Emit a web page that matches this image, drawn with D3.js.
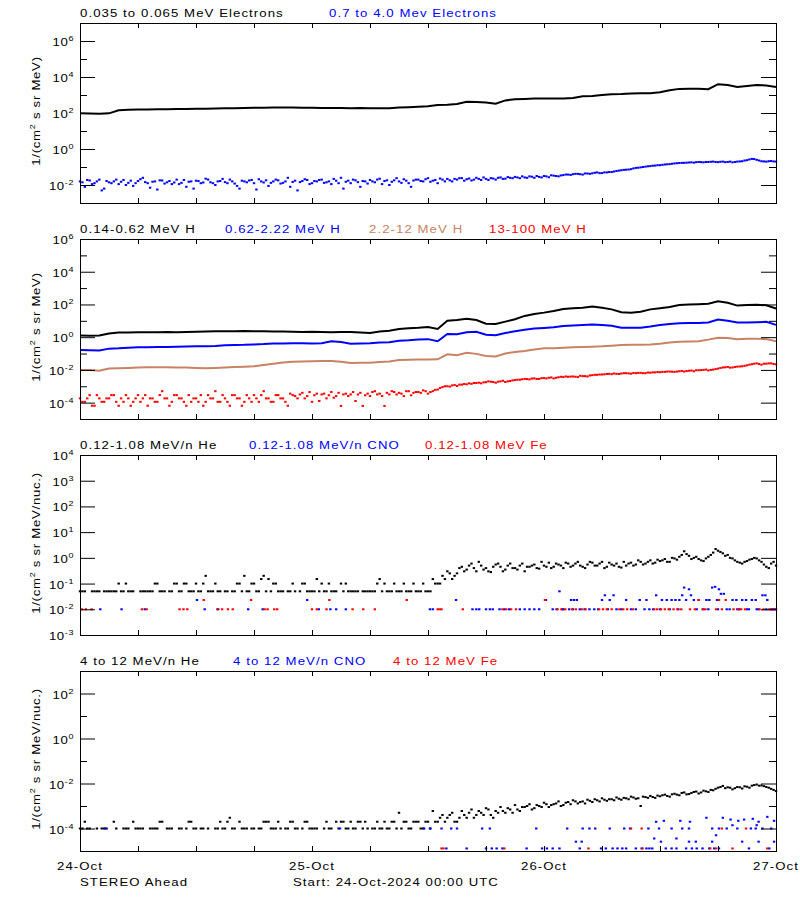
<!DOCTYPE html>
<html><head><meta charset="utf-8">
<script src="https://cdn.jsdelivr.net/npm/d3@7"></script>
<style>body{margin:0;background:#fff}svg{display:block}</style>
</head><body>
<script>
// ---------------- DATA (time in hours since 24-Oct-2024 00:00 UTC) ----------------
// Panel 1: electrons, log10 flux. black hourly; blue at :00/:30 (A) and :15/:45 (B)
const eLowLog = [1.98,1.97,1.96,1.98,2.15,2.18,2.2,2.2,2.21,2.21,
 2.22,2.22,2.24,2.24,2.25,2.26,2.27,2.28,2.29,2.29,
 2.3,2.3,2.3,2.29,2.29,2.28,2.28,2.28,2.27,2.28,
 2.27,2.26,2.26,2.3,2.32,2.35,2.37,2.44,2.46,2.5,
 2.62,2.61,2.58,2.52,2.7,2.76,2.78,2.8,2.8,2.8,
 2.81,2.84,2.93,2.94,3.0,3.04,3.05,3.09,3.1,3.1,
 3.15,3.26,3.34,3.35,3.35,3.32,3.6,3.56,3.44,3.5,
 3.55,3.53,3.44];
const eHighLog = [-1.8,-2.1,-1.75,-1.9,-1.7,-2.2,-1.85,-1.8,-1.95,-1.72,
 -1.88,-2.05,-1.78,-1.6,-1.9,-1.82,-2.25,-1.75,-1.85,-1.95,
 -1.7,-1.88,-2.1,-1.8,-1.76,-1.9,-1.65,-1.85,-2.0,-1.78,
 -1.84,-1.7,-1.92,-2.2,-1.8,-1.75,-1.9,-1.68,-1.86,-2.05,
 -1.8,-1.74,-1.88,-1.6,-1.83,-2.3,-1.78,-1.72,-1.9,-1.8,
 -1.7,-1.85,-1.95,-1.76,-1.6,-1.82,-1.9,-1.74,-2.1,-1.8,
 -1.72,-1.85,-1.65,-1.78,-2.0,-1.74,-1.8,-1.68,-1.9,-1.75,
 -1.7,-1.8,-1.62,-1.76,-1.9,-1.7,-1.66,-1.8,-1.7,-1.62,
 -1.68,-1.75,-1.6,-1.72,-1.66,-1.62,-1.7,-1.58,-1.65,-1.6,
 -1.55,-1.62,-1.58,-1.52,-1.6,-1.55,-1.5,-1.57,-1.48,-1.52,
 -1.45,-1.42,-1.4,-1.38,-1.42,-1.36,-1.35,-1.3,-1.34,-1.3,
 -1.28,-1.22,-1.18,-1.15,-1.12,-1.05,-1.02,-0.98,-0.95,-0.92,
 -0.9,-0.86,-0.84,-0.8,-0.78,-0.77,-0.75,-0.76,-0.72,-0.74,
 -0.72,-0.7,-0.73,-0.7,-0.72,-0.74,-0.7,-0.68,-0.62,-0.55,
 -0.6,-0.68,-0.7,-0.67,-0.7];
const eHighLogB = [-1.85,-1.72,-1.95,-1.8,-2.3,-1.78,-1.9,-1.7,-1.82,-2.0,
 -1.76,-1.9,-1.68,-1.84,-2.15,-1.8,-1.74,-1.92,-1.78,-1.86,
 -1.95,-1.72,-1.82,-2.2,-1.78,-1.86,-1.7,-1.9,-1.8,-1.66,
 -1.9,-1.8,-2.05,-1.76,-1.85,-1.72,-2.25,-1.8,-1.74,-1.88,
 -1.7,-1.92,-1.8,-2.1,-1.76,-1.84,-1.68,-1.95,-1.78,-1.72,
 -1.88,-1.8,-1.66,-1.9,-2.2,-1.76,-1.7,-1.84,-1.78,-1.92,
 -1.8,-1.7,-1.95,-1.74,-1.82,-1.62,-1.88,-1.76,-2.1,-1.7,
 -1.78,-1.68,-1.82,-1.72,-1.64,-1.8,-1.74,-1.66,-1.62,-1.76,
 -1.64,-1.7,-1.66,-1.58,-1.72,-1.64,-1.6,-1.66,-1.56,-1.62,
 -1.58,-1.52,-1.6,-1.54,-1.5,-1.58,-1.52,-1.46,-1.5,-1.47,
 -1.42,-1.44,-1.38,-1.4,-1.36,-1.38,-1.32,-1.34,-1.3,-1.28,
 -1.25,-1.2,-1.16,-1.14,-1.08,-1.04,-1.0,-0.96,-0.93,-0.9,
 -0.88,-0.85,-0.82,-0.79,-0.77,-0.76,-0.74,-0.73,-0.73,-0.72,
 -0.71,-0.72,-0.71,-0.73,-0.7,-0.72,-0.69,-0.64,-0.58,-0.56,
 -0.64,-0.69,-0.68,-0.69];
// Panel 2: protons, log10 flux. three lines hourly, 13-100 MeV at :00/:30 (A) and :15/:45 (B)
const hLowLog = [0.1,0.08,0.1,0.22,0.28,0.28,0.3,0.3,0.3,0.31,
 0.3,0.32,0.33,0.35,0.36,0.36,0.37,0.38,0.37,0.36,
 0.34,0.35,0.33,0.32,0.33,0.32,0.3,0.32,0.31,0.28,
 0.26,0.35,0.4,0.5,0.55,0.57,0.62,0.5,1.0,1.05,
 1.12,1.05,0.82,0.8,0.95,1.1,1.3,1.42,1.5,1.6,
 1.72,1.77,1.8,1.87,1.8,1.7,1.52,1.5,1.55,1.7,
 1.77,1.85,1.97,2.0,2.02,2.05,2.2,2.1,1.93,1.97,
 1.98,1.95,1.75];
const hMidLog = [-0.78,-0.8,-0.82,-0.7,-0.68,-0.64,-0.62,-0.61,-0.6,-0.6,
 -0.58,-0.57,-0.56,-0.55,-0.54,-0.5,-0.48,-0.47,-0.44,-0.42,
 -0.38,-0.38,-0.37,-0.37,-0.38,-0.37,-0.25,-0.3,-0.4,-0.39,
 -0.37,-0.33,-0.31,-0.22,-0.19,-0.14,-0.12,-0.25,0.2,0.18,
 0.3,0.33,0.15,0.12,0.25,0.36,0.45,0.53,0.56,0.6,
 0.68,0.72,0.74,0.77,0.75,0.7,0.58,0.57,0.58,0.65,
 0.75,0.8,0.85,0.86,0.86,0.9,1.08,1.0,0.9,0.9,
 0.92,0.94,0.75];
const hHighLog = [-2.0,-2.0,-2.05,-1.92,-1.9,-1.88,-1.85,-1.84,-1.84,-1.83,
 -1.85,-1.86,-1.88,-1.9,-1.88,-1.85,-1.82,-1.8,-1.78,-1.7,
 -1.62,-1.55,-1.5,-1.48,-1.47,-1.45,-1.45,-1.5,-1.58,-1.57,
 -1.56,-1.52,-1.48,-1.4,-1.38,-1.37,-1.36,-1.35,-1.05,-1.1,
 -0.95,-1.02,-1.15,-1.18,-1.0,-0.9,-0.85,-0.75,-0.68,-0.67,
 -0.65,-0.62,-0.6,-0.58,-0.56,-0.52,-0.48,-0.47,-0.46,-0.44,
 -0.4,-0.33,-0.28,-0.26,-0.25,-0.15,-0.03,-0.05,-0.12,-0.1,
 -0.1,-0.12,-0.25];
const hTopLog = [-3.74,-3.95,-3.54,-4.19,-3.74,-3.95,-3.74,-3.54,-4.19,-3.95,
 -3.74,-3.95,-3.54,-3.74,-4.19,-3.74,-3.95,-3.3,-3.74,-3.95,
 -3.54,-3.74,-4.19,-3.95,-3.74,-3.54,-3.95,-3.74,-3.3,-3.95,
 -3.74,-4.19,-3.54,-3.74,-3.95,-3.74,-3.54,-3.95,-3.3,-3.74,
 -3.95,-3.54,-3.74,-4.19,-3.54,-3.74,-3.4,-3.6,-3.95,-3.45,
 -3.5,-3.74,-3.35,-3.6,-4.2,-3.45,-3.5,-3.9,-3.4,-3.55,
 -3.6,-3.3,-3.45,-4.2,-3.5,-3.35,-3.4,-3.6,-3.3,-3.4,
 -3.35,-3.25,-3.45,-3.3,-3.2,-3.05,-3.0,-2.95,-2.98,-2.9,
 -2.88,-2.85,-2.8,-2.82,-2.75,-2.72,-2.78,-2.7,-2.74,-2.68,
 -2.62,-2.6,-2.55,-2.58,-2.52,-2.55,-2.5,-2.48,-2.52,-2.45,
 -2.44,-2.42,-2.4,-2.44,-2.38,-2.4,-2.32,-2.3,-2.28,-2.25,
 -2.26,-2.24,-2.22,-2.2,-2.23,-2.2,-2.18,-2.2,-2.17,-2.15,
 -2.14,-2.12,-2.1,-2.12,-2.08,-2.1,-2.05,-2.08,-2.02,-2.0,
 -2.03,-1.98,-1.92,-1.85,-1.82,-1.85,-1.8,-1.78,-1.72,-1.65,
 -1.6,-1.68,-1.62,-1.6,-1.66];
const hTopLogB = [-3.95,-3.74,-4.19,-3.54,-3.95,-3.74,-3.54,-3.95,-3.74,-3.54,
 -4.19,-3.74,-3.95,-3.54,-3.74,-3.95,-3.54,-3.74,-4.19,-3.54,
 -3.74,-3.95,-3.54,-3.74,-3.95,-4.19,-3.54,-3.74,-3.95,-3.54,
 -3.95,-3.54,-3.74,-4.19,-3.54,-3.95,-3.74,-3.54,-3.74,-3.95,
 -3.54,-3.74,-3.95,-3.45,-3.6,-3.5,-3.74,-3.35,-3.55,-3.9,
 -3.45,-3.55,-3.7,-3.4,-3.5,-3.6,-3.35,-3.5,-4.2,-3.45,
 -3.35,-3.5,-3.6,-3.4,-3.3,-3.5,-3.45,-3.3,-3.55,-3.35,
 -3.4,-3.3,-3.35,-3.22,-3.1,-3.0,-3.02,-2.92,-2.9,-2.86,
 -2.82,-2.8,-2.78,-2.76,-2.7,-2.74,-2.72,-2.66,-2.7,-2.64,
 -2.6,-2.57,-2.56,-2.53,-2.55,-2.5,-2.52,-2.46,-2.48,-2.42,
 -2.4,-2.41,-2.42,-2.36,-2.38,-2.34,-2.3,-2.28,-2.27,-2.24,
 -2.22,-2.25,-2.2,-2.21,-2.19,-2.18,-2.2,-2.16,-2.15,-2.13,
 -2.12,-2.1,-2.11,-2.1,-2.06,-2.07,-2.04,-2.02,-2.01,-1.98,
 -2.0,-1.95,-1.88,-1.84,-1.86,-1.82,-1.79,-1.75,-1.68,-1.62,
 -1.64,-1.62,-1.6,-1.64];
// Panel 3: 0.12-1.08 MeV/n He flux at :00/:30 (A) and :15/:45 (B); null = no counts
const heLow = [0.05,0.05,null,0.05,0.05,0.05,0.05,0.05,0.1,0.05,
 0.05,0.05,null,0.05,0.05,0.05,0.1,0.05,null,0.05,
 0.1,0.05,0.1,0.05,0.1,0.05,0.2,0.05,0.1,0.05,
 0.05,null,0.05,0.1,0.2,0.05,0.1,0.05,0.2,0.15,
 0.1,0.05,0.05,0.05,0.1,null,0.1,0.05,0.05,0.15,
 0.1,0.05,0.05,0.05,0.1,0.1,0.05,0.05,null,0.05,
 0.05,0.05,0.15,0.1,0.05,0.1,0.05,0.1,0.05,0.1,
 0.05,0.1,0.05,0.15,0.1,0.2,0.3,0.15,0.25,0.45,
 0.35,0.6,0.3,0.5,0.4,0.28,0.55,0.45,0.35,0.6,
 0.4,0.5,0.3,0.45,0.55,0.38,0.5,0.65,0.45,0.55,
 0.4,0.6,0.5,0.7,0.45,0.55,0.65,0.5,0.7,0.45,
 0.55,0.6,0.42,0.5,0.65,0.55,0.7,0.6,0.8,0.65,
 0.75,0.9,0.7,0.95,1.1,1.8,1.2,1.0,0.9,0.75,
 1.1,1.6,1.9,1.5,1.3,0.95,0.7,0.6,0.75,0.9,
 0.95,0.7,0.45,0.6,0.5];
const heLowB = [0.05,null,0.05,0.05,null,0.05,0.05,0.05,0.05,0.1,
 0.05,null,0.05,0.05,0.05,0.1,0.05,0.05,0.05,0.1,
 0.05,0.1,0.05,0.05,0.05,0.1,0.05,0.05,0.05,null,
 0.05,0.05,0.1,0.05,0.05,0.1,0.05,0.15,0.05,0.05,
 0.1,0.05,null,0.05,0.05,0.05,0.1,0.05,0.05,0.05,
 0.05,0.1,0.05,null,0.05,0.05,0.05,0.05,0.05,0.05,
 0.05,0.1,0.05,0.05,0.05,0.05,0.05,0.05,0.05,0.05,
 0.05,0.05,0.05,0.1,0.1,0.15,0.25,0.2,0.4,0.3,
 0.5,0.4,0.7,0.35,0.3,0.45,0.6,0.3,0.5,0.4,
 0.35,0.6,0.45,0.5,0.4,0.7,0.45,0.4,0.6,0.5,
 0.65,0.45,0.6,0.5,0.4,0.7,0.5,0.6,0.4,0.65,
 0.5,0.45,0.7,0.6,0.5,0.8,0.55,0.7,0.6,0.85,
 0.8,0.7,1.0,0.85,1.3,1.4,0.9,1.1,0.8,0.95,
 1.3,2.2,1.7,1.2,1.0,0.8,0.65,0.7,0.85,1.0,
 0.8,0.55,0.4,0.7];
// CNO and Fe: [hour, flux] samples
const cnoLow = [[2.1,.01],[4.3,.01],[6.7,.01],[12.1,.023],[12.9,.01],[14.3,.01],[17.4,.01],[18.9,.01],
 [23.5,.023],[24.7,.01],[25.9,.01],[26.5,.01],[27.5,.01],[36.2,.01],[36.5,.01],[38.9,.023],
 [40.6,.01],[41.0,.01],[41.3,.01],[42.0,.01],[42.4,.01],[42.7,.01],[43.4,.01],[43.9,.01],[44.4,.01],
 [45.5,.01],[46.0,.01],[46.5,.01],[47.0,.01],[47.5,.01],[48.2,.023],[48.9,.01],[49.3,.01],[49.6,.05],
 [49.9,.01],[50.0,.01],[50.6,.01],[50.8,.023],[51.0,.01],[51.1,.023],[51.4,.023],[51.7,.01],[52.2,.01],
 [52.7,.01],[53.2,.01],[53.6,.01],[54.0,.023],[54.3,.035],[54.6,.01],[54.8,.023],[55.2,.035],[55.5,.01],
 [56.0,.01],[56.5,.023],[57.0,.01],[57.5,.01],[57.9,.023],[58.4,.01],[58.6,.023],[58.9,.01],[59.3,.01],
 [59.6,.035],[60.0,.01],[60.2,.023],[60.7,.023],[61.0,.01],[61.2,.023],[61.6,.023],[61.9,.01],[62.0,.023],
 [62.3,.035],[62.5,.07],[62.7,.023],[63.0,.06],[63.2,.035],[63.5,.023],[63.8,.01],[64.0,.023],[64.5,.01],
 [64.8,.023],[65.0,.01],[65.1,.023],[65.4,.07],[65.7,.075],[65.9,.023],[66.0,.01],[66.1,.06],[66.3,.04],
 [66.6,.04],[66.9,.01],[67.2,.01],[67.5,.023],[67.9,.023],[68.0,.01],[68.2,.01],[68.5,.023],[68.9,.023],
 [69.0,.01],[69.2,.01],[69.5,.023],[69.9,.023],[70.0,.01],[70.2,.01],[70.6,.035],[70.9,.035],[71.0,.01],
 [71.1,.023],[71.5,.01],[71.7,.01],[71.9,.01]];
const feLow = [[0.2,.01],[0.6,.01],[1.2,.01],[6.4,.01],[6.9,.01],[10.3,.01],[10.7,.01],[11.1,.01],
 [12.8,.023],[14.2,.01],[14.7,.01],[15.3,.01],[15.8,.01],[17.7,.023],[19.1,.01],[19.4,.01],[20.1,.01],
 [20.4,.01],[24.0,.01],[24.5,.01],[25.5,.01],[25.8,.023],[28.2,.01],[29.3,.01],[30.5,.01],[33.8,.023],
 [37.0,.01],[37.2,.01],[37.4,.01],[39.6,.01],[43.7,.01],[44.1,.01],[44.6,.01],[45.1,.01],[48.1,.023],
 [49.4,.01],[49.8,.01],[50.2,.01],[50.9,.01],[51.3,.01],[51.9,.01],[52.3,.01],[53.7,.01],[54.1,.01],
 [54.5,.01],[55.0,.01],[55.8,.01],[56.2,.01],[56.6,.01],[57.2,.01],[59.4,.01],[59.7,.01],[60.1,.01],
 [60.5,.01],[60.9,.01],[61.4,.01],[61.8,.01],[62.2,.01],[63.1,.01],[63.6,.01],[64.0,.023],[64.4,.01],
 [64.7,.01],[65.8,.01],[66.1,.023],[66.4,.01],[66.8,.023],[67.6,.01],[68.1,.01],[68.4,.01],[68.8,.01],
 [70.3,.01],[70.7,.01],[71.3,.01],[71.6,.01],[72.0,.01]];
// Panel 4: 4-12 MeV/n He at :00/:30 (A) and :15/:45 (B); CNO/Fe as [hour, flux]
const heHigh = [1e-4,2e-4,1e-4,null,null,1e-4,null,2e-4,null,1e-4,
 1e-4,2e-4,1e-4,1e-4,null,1e-4,1e-4,2e-4,1e-4,1e-4,
 null,1e-4,1e-4,2e-4,1e-4,1e-4,null,null,1e-4,2e-4,
 1e-4,3e-4,1e-4,2e-4,1e-4,null,1e-4,1e-4,2e-4,2e-4,
 1e-4,2e-4,null,1e-4,2e-4,1e-4,1e-4,2e-4,1e-4,1e-4,
 null,2e-4,1e-4,2e-4,2e-4,1e-4,2e-4,1e-4,2e-4,2e-4,
 null,1e-4,1e-4,2e-4,1e-4,2e-4,5e-4,2e-4,1e-4,2e-4,
 2e-4,1e-4,2e-4,6e-4,2e-4,4e-4,3e-4,5e-4,2e-4,6e-4,
 3e-4,7e-4,4e-4,5e-4,8e-4,4e-4,6e-4,9e-4,5e-4,7e-4,
 1.1e-3,6e-4,9e-4,1.2e-3,8e-4,1.0e-3,1.4e-3,9e-4,1.2e-3,1.6e-3,
 1.1e-3,1.5e-3,1.8e-3,1.3e-3,1.6e-3,1.9e-3,1.5e-3,1.8e-3,2.2e-3,1.7e-3,
 2.0e-3,2.4e-3,1.9e-3,2.2e-3,2.6e-3,2.1e-3,1.0e-3,2.5e-3,2.8e-3,2.3e-3,
 2.7e-3,3.2e-3,2.6e-3,3.5e-3,3.0e-3,4.0e-3,3.4e-3,4.2e-3,3.6e-3,4.8e-3,
 4.2e-3,5.0e-3,6.5e-3,7.8e-3,6.8e-3,5.5e-3,7.0e-3,6.0e-3,7.2e-3,8.0e-3,
 9.0e-3,8.2e-3,7.0e-3,5.8e-3,4.6e-3];
const heHighB = [1e-4,1e-4,null,1e-4,1e-4,1e-4,null,1e-4,null,1e-4,
 null,1e-4,1e-4,null,1e-4,1e-4,2e-4,null,1e-4,null,
 1e-4,null,2e-4,1e-4,null,1e-4,1e-4,null,1e-4,1e-4,
 2e-4,1e-4,null,1e-4,1e-4,1e-4,null,1e-4,2e-4,1e-4,
 1e-4,1e-4,1e-4,2e-4,1e-4,null,2e-4,1e-4,1e-4,null,
 1e-4,1e-4,null,1e-4,2e-4,1e-4,1e-4,2e-4,1e-4,1e-4,
 1e-4,2e-4,1e-4,1e-4,2e-4,1e-4,1e-4,2e-4,1e-4,2e-4,
 1e-4,2e-4,1e-4,2e-4,3e-4,2e-4,4e-4,2e-4,3e-4,4e-4,
 5e-4,3e-4,6e-4,4e-4,7e-4,3e-4,5e-4,6e-4,8e-4,5e-4,
 7e-4,9e-4,1.0e-3,7e-4,1.1e-3,9e-4,1.2e-3,1.1e-3,1.3e-3,1.0e-3,
 1.4e-3,1.2e-3,1.6e-3,1.5e-3,1.3e-3,1.7e-3,2.0e-3,1.6e-3,1.9e-3,2.0e-3,
 1.8e-3,2.1e-3,2.3e-3,2.0e-3,2.4e-3,2.2e-3,2.6e-3,2.3e-3,2.5e-3,2.9e-3,
 3.0e-3,2.8e-3,3.3e-3,3.2e-3,3.8e-3,3.3e-3,3.8e-3,4.4e-3,4.0e-3,4.5e-3,
 5.2e-3,5.8e-3,7.0e-3,6.2e-3,6.5e-3,6.2e-3,6.8e-3,7.5e-3,6.5e-3,8.5e-3,
 8.0e-3,7.6e-3,6.5e-3,5.2e-3];
const cnoHigh = [[2.6,1e-4],[26.9,1e-4],[35.6,1e-4],[36.2,1e-4],[37.4,1e-4],[38.4,1e-4],[39.0,1e-4],
 [41.6,1e-4],[42.4,1e-4],[47.2,1e-4],[50.4,1e-4],[52.0,1e-4],[52.7,1e-4],[53.3,1e-4],[54.8,1e-4],
 [56.3,1e-4],[56.9,1e-4],[58.8,1e-4],[59.9,1e-4],[61.2,1e-4],[62.3,1e-4],[63.0,1e-4],[65.4,1e-4],
 [66.1,1e-4],[66.9,1e-4],[68.0,1e-4],[69.4,1e-4],[69.9,1e-4],[70.6,1e-4],[71.5,1e-4],
 [67.5,1.4e-4],[70.0,1.4e-4],
 [59.6,2e-4],[60.4,2.2e-4],[62.1,2.2e-4],[63.1,2e-4],[64.8,3e-4],[66.5,3e-4],[67.3,2.5e-4],[68.1,2.2e-4],
 [68.7,2.5e-4],[69.6,2.7e-4],[70.2,2e-4],[71.1,3.3e-4],[71.8,2.2e-4],
 [51.3,2.6e-5],[51.9,2.6e-5],[59.4,3.6e-5],[60.1,2.6e-5],[61.7,3.6e-5],[63.0,2.6e-5],[63.7,2.6e-5],
 [65.4,2.6e-5],[65.8,5e-5],[68.5,2.6e-5],[70.2,2.6e-5],[71.8,2.6e-5],
 [37.9,1.3e-5],[40.0,1.3e-5],[42.0,1.3e-5],[42.6,1.3e-5],[43.1,1.3e-5],[43.7,1.3e-5],[46.2,1.3e-5],
 [47.8,1.3e-5],[48.3,1.3e-5],[48.9,1.3e-5],[49.6,1.3e-5],[51.7,1.3e-5],[53.9,1.3e-5],[54.4,1.3e-5],
 [55.1,1.3e-5],[55.6,1.3e-5],[56.1,1.3e-5],[56.5,1.3e-5],[57.5,1.3e-5],[58.1,1.3e-5],[58.6,1.3e-5],
 [58.9,1.3e-5],[59.2,1.3e-5],[60.6,1.3e-5],[61.2,1.3e-5],[61.7,1.3e-5],[62.7,1.3e-5],[63.3,1.3e-5],
 [63.8,1.3e-5],[64.4,1.3e-5],[65.1,1.3e-5],[65.6,1.3e-5],[66.1,1.3e-5],[69.2,1.3e-5],[71.3,1.3e-5]];
const feHigh = [[37.4,1.3e-5],[37.6,1.3e-5],[43.9,1.3e-5],[52.6,1.3e-5],[58.2,1.3e-5],[65.2,1.3e-5],
 [65.8,1.3e-5],[67.5,1.3e-5],[71.1,1.3e-5],[57.0,1e-4],[58.1,1e-4],[66.4,1e-4],[68.9,1e-4]];

// tick labels / text
const dayLabels = ['24-Oct','25-Oct','26-Oct','27-Oct'];
const titles1 = ['0.035 to 0.065 MeV Electrons','0.7 to 4.0 Mev Electrons'];
const titles2 = ['0.14-0.62 MeV H','0.62-2.22 MeV H','2.2-12 MeV H','13-100 MeV H'];
const titles3 = ['0.12-1.08 MeV/n He','0.12-1.08 MeV/n CNO','0.12-1.08 MeV Fe'];
const titles4 = ['4 to 12 MeV/n He','4 to 12 MeV/n CNO','4 to 12 MeV Fe'];
const unitsA = 'MeV)', unitsB = 'MeV/nuc.)';

// ---------------- LAYOUT / STYLE ----------------
const BLUE='#0000ff', RED='#ff0000', SIENNA='#c88264', BLACK='#000000';
const SX=1.2, FS=11, LS=0.9, SUPFS=7.5, SUPDY=5;
const X0=80, X1=776;
const svg = d3.select('body').append('svg').attr('width',800).attr('height',900)
  .attr('font-family',"'Liberation Sans', Arial, Helvetica, sans-serif");
const x = d3.scaleLinear().domain([0,72]).range([X0,X1]);

function txt(p, px, py, segs, o={}) {
  const t = p.append('text')
    .attr('transform', `translate(${px},${py})` + (o.rot ? ` rotate(${o.rot})` : '') + ` scale(${SX},1)`)
    .attr('text-anchor', o.anchor || 'start')
    .attr('fill', o.color || BLACK)
    .attr('font-size', FS)
    .attr('letter-spacing', o.ls != null ? o.ls : LS);
  let raised = false;
  segs.forEach(s => {
    const sup = Array.isArray(s);
    const str = sup ? s[0] : s;
    const ts = t.append('tspan').text(str);
    if (sup) { ts.attr('font-size', SUPFS); if (!raised) { ts.attr('dy', -SUPDY); raised = true; } }
    else if (raised) { ts.attr('dy', SUPDY); raised = false; }
  });
  return t;
}

const panels = [
  {top:23, dom:[1e-3,1e7], major:[6,4,2,0,-2], minor:[7,5,3,1,-1], units:unitsA,
   titles:titles1, tx:[80,329], tc:[BLACK,BLUE]},
  {top:239, dom:[1e-5,1e6], major:[6,4,2,0,-2,-4], minor:[5,3,1,-1,-3], units:unitsA,
   titles:titles2, tx:[80,225,369,489], tc:[BLACK,BLUE,SIENNA,RED]},
  {top:455, dom:[1e-3,1e4], major:[4,3,2,1,0,-1,-2,-3], minor:[], units:unitsB,
   titles:titles3, tx:[80,249,425], tc:[BLACK,BLUE,RED]},
  {top:671, dom:[1e-5,1e3], major:[2,0,-2,-4], minor:[3,1,-1,-3], units:unitsB,
   titles:titles4, tx:[80,233,393], tc:[BLACK,BLUE,RED]},
];
const PH = 180;
panels.forEach(p => {
  p.y = d3.scaleLog().domain(p.dom).range([p.top+PH, p.top]);
  p.g = svg.append('g');
});

function drawLine(p, arr, step, color) {
  const data = arr.map((v,i)=>[i*step, v]);
  p.g.append('path').datum(data)
    .attr('fill','none').attr('stroke',color).attr('stroke-width',2)
    .attr('d', d3.line().defined(d=>d[1]!=null).x(d=>x(d[0])).y(d=>p.y(Math.pow(10,d[1]))));
}
function drawDots(p, pts, color) {
  p.g.append('g').selectAll('rect').data(pts.filter(d=>d[1]!=null)).join('rect')
    .attr('x', d=>x(d[0])-1.2).attr('y', d=>p.y(d[1])-1)
    .attr('width',2.4).attr('height',2).attr('fill',color);
}
const halfHour = (arr, off=0) => arr.map((v,i)=>[i*0.5+off, v]);
const fromLog = (arr) => arr.map(v => v==null ? null : Math.pow(10,v));

// Panel 1
drawLine(panels[0], eLowLog, 1, BLACK);
drawDots(panels[0], halfHour(fromLog(eHighLog)), BLUE);
drawDots(panels[0], halfHour(fromLog(eHighLogB), 0.25), BLUE);
// Panel 2
drawLine(panels[1], hLowLog, 1, BLACK);
drawLine(panels[1], hMidLog, 1, BLUE);
drawLine(panels[1], hHighLog, 1, SIENNA);
drawDots(panels[1], halfHour(fromLog(hTopLog)), RED);
drawDots(panels[1], halfHour(fromLog(hTopLogB), 0.25), RED);
// Panel 3
drawDots(panels[2], halfHour(heLow), BLACK);
drawDots(panels[2], halfHour(heLowB, 0.25), BLACK);
drawDots(panels[2], cnoLow, BLUE);
drawDots(panels[2], feLow, RED);
// Panel 4
drawDots(panels[3], halfHour(heHigh), BLACK);
drawDots(panels[3], halfHour(heHighB, 0.25), BLACK);
drawDots(panels[3], cnoHigh, BLUE);
drawDots(panels[3], feHigh, RED);

// Axes, frames, labels
const hourTicks = d3.range(0, 73, 6);
panels.forEach(p => {
  const g = svg.append('g');
  const majorV = p.major.map(e=>Math.pow(10,e));
  const minorV = p.minor.map(e=>Math.pow(10,e));
  const clean = sel => { sel.select('.domain').remove(); sel.selectAll('text').remove(); sel.selectAll('line').attr('stroke','#000'); };
  g.append('g').attr('transform',`translate(${X0},0)`).call(d3.axisRight(p.y).tickValues(majorV).tickSize(15).tickFormat('')).call(clean);
  g.append('g').attr('transform',`translate(${X1},0)`).call(d3.axisLeft(p.y).tickValues(majorV).tickSize(15).tickFormat('')).call(clean);
  if (minorV.length) {
    g.append('g').attr('transform',`translate(${X0},0)`).call(d3.axisRight(p.y).tickValues(minorV).tickSize(7).tickFormat('')).call(clean);
    g.append('g').attr('transform',`translate(${X1},0)`).call(d3.axisLeft(p.y).tickValues(minorV).tickSize(7).tickFormat('')).call(clean);
  }
  g.append('g').attr('transform',`translate(0,${p.top})`).call(d3.axisBottom(x).tickValues(hourTicks).tickSize(5).tickFormat('')).call(clean);
  g.append('g').attr('transform',`translate(0,${p.top+PH})`).call(d3.axisTop(x).tickValues(hourTicks).tickSize(5).tickFormat('')).call(clean);
  g.append('rect').attr('x',X0+0.5).attr('y',p.top+0.5).attr('width',X1-X0).attr('height',PH)
    .attr('fill','none').attr('stroke','#000').attr('stroke-width',1);
  p.major.forEach(e => {
    txt(g, 74, p.y(Math.pow(10,e))+5, ['10', [String(e)]], {anchor:'end', ls:0.5});
  });
  txt(g, 40, p.top+PH/2-2, ['1/(cm', ['2'], ' s sr ' + p.units], {anchor:'middle', rot:-90, ls:0.6});
  p.titles.forEach((t,i) => txt(g, p.tx[i], p.top-6, [t], {color:p.tc[i]}));
});

dayLabels.forEach((d,i) => txt(svg, x(i*24), 870, [d], {anchor:'middle'}));
txt(svg, 80, 886, ['STEREO Ahead']);
txt(svg, 293, 886, ['Start: 24-Oct-2024 00:00 UTC']);
</script>
</body></html>
